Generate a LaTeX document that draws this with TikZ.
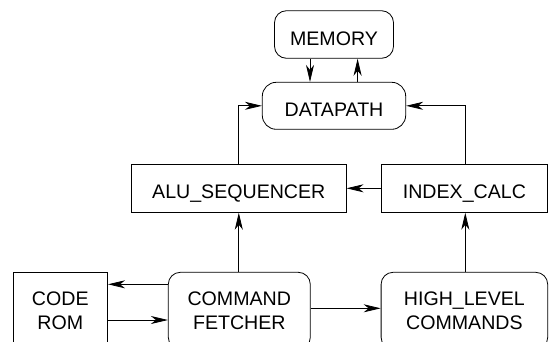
\documentclass[tikz,border=0pt]{standalone}
\usepackage{fontspec}
\setmainfont{Liberation Sans}
\usetikzlibrary{arrows.meta}
\begin{document}
\begin{tikzpicture}[x=1pt,y=-1pt,
  every node/.style={font=\fontsize{19.6}{23.3}\selectfont, inner sep=0pt, draw, line width=0.8pt},
  rbox/.style={rounded corners=12pt},
  onel/.style={text height=21.3pt, text depth=0pt},
  twol/.style={align=center},
  conn/.style={line width=0.8pt, -{Stealth[length=17pt,width=8pt,inset=5pt]}},
  plain/.style={line width=0.8pt}]
\useasboundingbox (0,0) rectangle (549,341);
\node[rbox,onel,minimum width=119pt,minimum height=47.6pt] (mem) at (334,34.5) {MEMORY};
\node[rbox,onel,rounded corners=14pt,minimum width=143.4pt,minimum height=47pt] (dp) at (334,105.8) {DATAPATH};
\node[onel,minimum width=214.6pt,minimum height=48pt] (alu) at (238.8,188.3) {ALU\_SEQUENCER};
\node[onel,minimum width=166.6pt,minimum height=48pt] (idx) at (464.4,188.3) {INDEX\_CALC};
\node[twol,minimum width=94.6pt,minimum height=77pt] (rom) at (60.3,310.8) {CODE\\ROM};
\node[rbox,twol,minimum width=142pt,minimum height=77pt] (cmd) at (239.3,310.8) {COMMAND\\FETCHER};
\node[rbox,twol,minimum width=166.6pt,minimum height=77pt] (high) at (464.4,310.8) {HIGH\_LEVEL\\COMMANDS};
% memory <-> datapath
\draw[conn] ([xshift=-24pt]mem.south) -- ([xshift=-24pt]dp.north);
\draw[conn] ([xshift=23.6pt]dp.north) -- ([xshift=23.6pt]mem.south);
% to datapath
\draw[conn] (alu.north) |- (dp.west);
\draw[conn] ([xshift=0.9pt]idx.north) |- (dp.east);
% index -> alu
\draw[conn] (idx.west) -- (alu.east);
% fetcher -> alu, high -> index
\draw[conn] ([xshift=-0.5pt]cmd.north) -- ([xshift=-0.5pt]cmd.north |- alu.south);
\draw[conn] ([xshift=0.9pt]high.north) -- ([xshift=0.9pt]high.north |- idx.south);
% code rom <-> fetcher
\draw[conn] ([yshift=26.5pt]cmd.west) -- ([yshift=26.5pt]rom.east);
\draw[conn] ([yshift=-9.2pt]rom.east) -- ([yshift=-9.2pt]cmd.west);
% fetcher -> high level
\draw[conn] ([yshift=2.5pt]cmd.east) -- ([yshift=2.5pt]high.west);
\end{tikzpicture}
\end{document}
